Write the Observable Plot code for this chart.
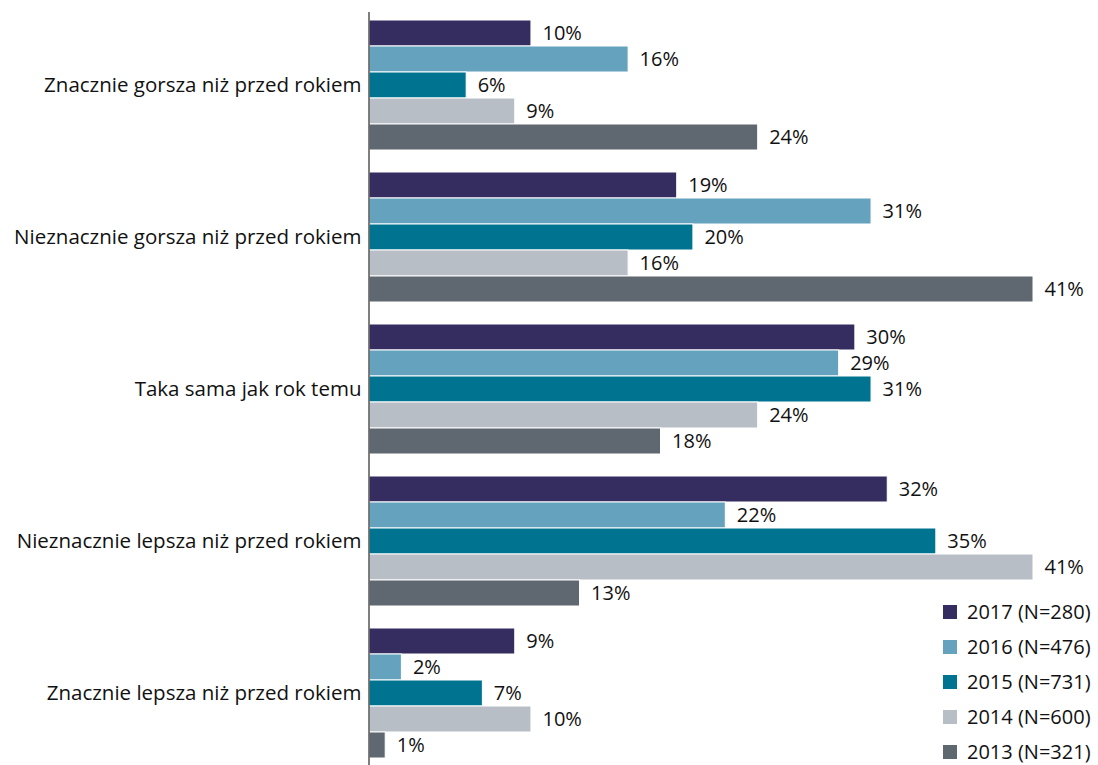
<!DOCTYPE html>
<html>
<head>
<meta charset="utf-8">
<script src="https://cdn.jsdelivr.net/npm/d3@7"></script>
<script src="https://cdn.jsdelivr.net/npm/@observablehq/plot@0.6"></script>
<style>
  body { margin: 0; background: #fff; }
  #wrap { position: relative; width: 1098px; height: 765px; overflow: hidden; }
  #legend { position: absolute; left: 943px; top: 594px; font-family: "Open Sans", sans-serif; font-size: 20px; line-height: 24px; color: #111; white-space: nowrap; }
  #legend .row { display: flex; align-items: center; height: 35px; }
  #legend .sw { width: 14px; height: 14px; margin-right: 10px; flex: none; }
</style>
</head>
<body>
<div id="wrap"></div>
<script>
const categories = [
  "Znacznie gorsza niż przed rokiem",
  "Nieznacznie gorsza niż przed rokiem",
  "Taka sama jak rok temu",
  "Nieznacznie lepsza niż przed rokiem",
  "Znacznie lepsza niż przed rokiem"
];
const series = ["2017 (N=280)", "2016 (N=476)", "2015 (N=731)", "2014 (N=600)", "2013 (N=321)"];
const colors = ["#352c60", "#65a2bd", "#007391", "#b8bec6", "#5f6770"];
const v2017 = [10, 19, 30, 32, 9];
const v2016 = [16, 31, 29, 22, 2];
const v2015 = [6, 20, 31, 35, 7];
const v2014 = [9, 16, 24, 41, 10];
const v2013 = [24, 41, 18, 13, 1];
const valuesBySeries = [v2017, v2016, v2015, v2014, v2013];

const data = [];
categories.forEach((c, i) => {
  series.forEach((s, j) => data.push({cat: c, series: s, value: valuesBySeries[j][i]}));
});

const font = "'Open Sans', sans-serif";
const chart = Plot.plot({
  width: 1098,
  height: 765,
  marginLeft: 369,
  marginRight: 65,
  marginTop: 20,
  marginBottom: 7,
  style: {fontFamily: font, fontSize: "20.5px", color: "#111", background: "#fff", overflow: "visible"},
  x: {domain: [0, 41], axis: null},
  y: {domain: series, padding: 0, axis: null},
  fy: {domain: categories, paddingInner: 0.145, paddingOuter: 0, axis: "left", label: null, tickSize: 0, tickPadding: 8},
  color: {domain: series, range: colors},
  marks: [
    Plot.barX(data, {x: "value", y: "series", fy: "cat", fill: "series", stroke: "#fff", strokeWidth: 1}),
    Plot.text(data, {x: "value", y: "series", fy: "cat", text: d => d.value + "%", textAnchor: "start", dx: 11, fill: "#111", fontSize: 20})
  ]
});

const x0 = chart.scale("x").apply(0);
d3.select(chart).append("line")
  .attr("x1", x0).attr("x2", x0).attr("y1", 12).attr("y2", 765)
  .attr("stroke", "#555").attr("stroke-width", 1.5);

document.getElementById("wrap").appendChild(chart);

const legend = document.createElement("div");
legend.id = "legend";
series.forEach((s, j) => {
  const row = document.createElement("div");
  row.className = "row";
  const sw = document.createElement("div");
  sw.className = "sw";
  sw.style.background = colors[j];
  const t = document.createElement("span");
  t.textContent = s;
  row.appendChild(sw); row.appendChild(t);
  legend.appendChild(row);
});
document.getElementById("wrap").appendChild(legend);
</script>
</body>
</html>
